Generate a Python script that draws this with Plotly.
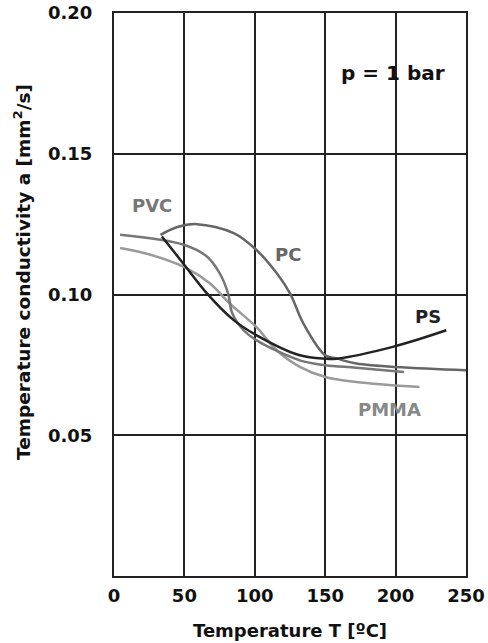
import plotly.graph_objects as go

# Data
ps_T = [34, 50, 66, 85, 101, 132, 150, 158, 198, 236]
ps_a = [0.1206, 0.1105, 0.1004, 0.0909, 0.0856, 0.0784, 0.0772, 0.0772, 0.0814, 0.0873]

pc_T = [33, 45, 59, 85, 101, 115.5, 125, 134.5, 150, 158, 172, 250]
pc_a = [0.1212, 0.1240, 0.1250, 0.1218, 0.1159, 0.1076, 0.1004, 0.0897, 0.0784, 0.0773, 0.0755, 0.0731]

pvc_T = [4.3, 50, 66, 75, 81, 84, 92, 101, 132, 150, 172, 206]
pvc_a = [0.1212, 0.1176, 0.1135, 0.1076, 0.1004, 0.0933, 0.0873, 0.0838, 0.0766, 0.0749, 0.0740, 0.0725]

pmma_T = [4.3, 26, 50, 68, 82, 101, 115.5, 132, 150, 172, 217]
pmma_a = [0.1165, 0.1141, 0.1097, 0.1040, 0.0969, 0.0885, 0.0802, 0.0743, 0.0707, 0.0689, 0.0671]

series = [
    ("PMMA", pmma_T, pmma_a, "#9a9a9a"),
    ("PVC", pvc_T, pvc_a, "#777777"),
    ("PC", pc_T, pc_a, "#666666"),
    ("PS", ps_T, ps_a, "#222222"),
]

labels = [
    ("PVC", 27, 0.1316, "#777777", 18),
    ("PC", 123.6, 0.1141, "#666666", 18),
    ("PS", 223, 0.0923, "#222222", 18),
    ("PMMA", 196, 0.0592, "#888888", 18),
    ("p = 1 bar", 198, 0.1786, "#111111", 20),
]

x_ticks = [0, 50, 100, 150, 200, 250]
y_ticks = [0.05, 0.10, 0.15, 0.20]
y_tick_text = ["0.05", "0.10", "0.15", "0.20"]

x_title = "Temperature T [ºC]"
y_title = "Temperature conductivity a [mm<sup>2</sup>/s]"

fig = go.Figure()
for name, xs, ys, col in series:
    fig.add_trace(go.Scatter(x=xs, y=ys, mode="lines", name=name,
                             line=dict(color=col, width=2.5, shape="spline", smoothing=1.0),
                             showlegend=False, hoverinfo="skip"))

for txt, x, y, col, sz in labels:
    fig.add_annotation(x=x, y=y, text="<b>%s</b>" % txt, showarrow=False,
                       font=dict(family="DejaVu Sans", size=sz, color=col))

font_b = dict(family="DejaVu Sans", size=18, color="#111111")

fig.update_layout(
    width=488, height=643,
    margin=dict(l=114, r=22, t=13, b=67),
    paper_bgcolor="white", plot_bgcolor="white",
    font=font_b,
    xaxis=dict(range=[0, 250], tickvals=x_ticks, ticktext=["<b>%d</b>" % v for v in x_ticks],
               showgrid=True, gridcolor="#222222", gridwidth=1.5,
               showline=True, linecolor="#222222", linewidth=2, mirror=True,
               zeroline=False, ticks="", ticklabelstandoff=2, automargin=False,
               ticklabeloverflow="allow"),
    yaxis=dict(range=[0, 0.20], tickvals=y_ticks, ticktext=["<b>%s</b>" % t for t in y_tick_text],
               showgrid=True, gridcolor="#222222", gridwidth=1.5,
               showline=True, linecolor="#222222", linewidth=2, mirror=True,
               zeroline=False, ticks="", ticklabelstandoff=16,
               automargin=False, ticklabeloverflow="allow"),
)
fig.add_annotation(x=0.5, y=-0.096, xref="paper", yref="paper", text="<b>%s</b>" % x_title,
                   showarrow=False, xanchor="center", yanchor="middle", font=font_b)
fig.add_annotation(x=-0.2614, y=0.54, xref="paper", yref="paper", text="<b>%s</b>" % y_title,
                   showarrow=False, xanchor="center", yanchor="middle", textangle=-90,
                   font=dict(family="DejaVu Sans", size=18.5, color="#111111"))

# remove the page's default body margin so the figure fills the window exactly
fig.write_html("out.html", config={"displayModeBar": False},
               post_script="document.body.style.margin='0';document.body.style.overflow='hidden';")
